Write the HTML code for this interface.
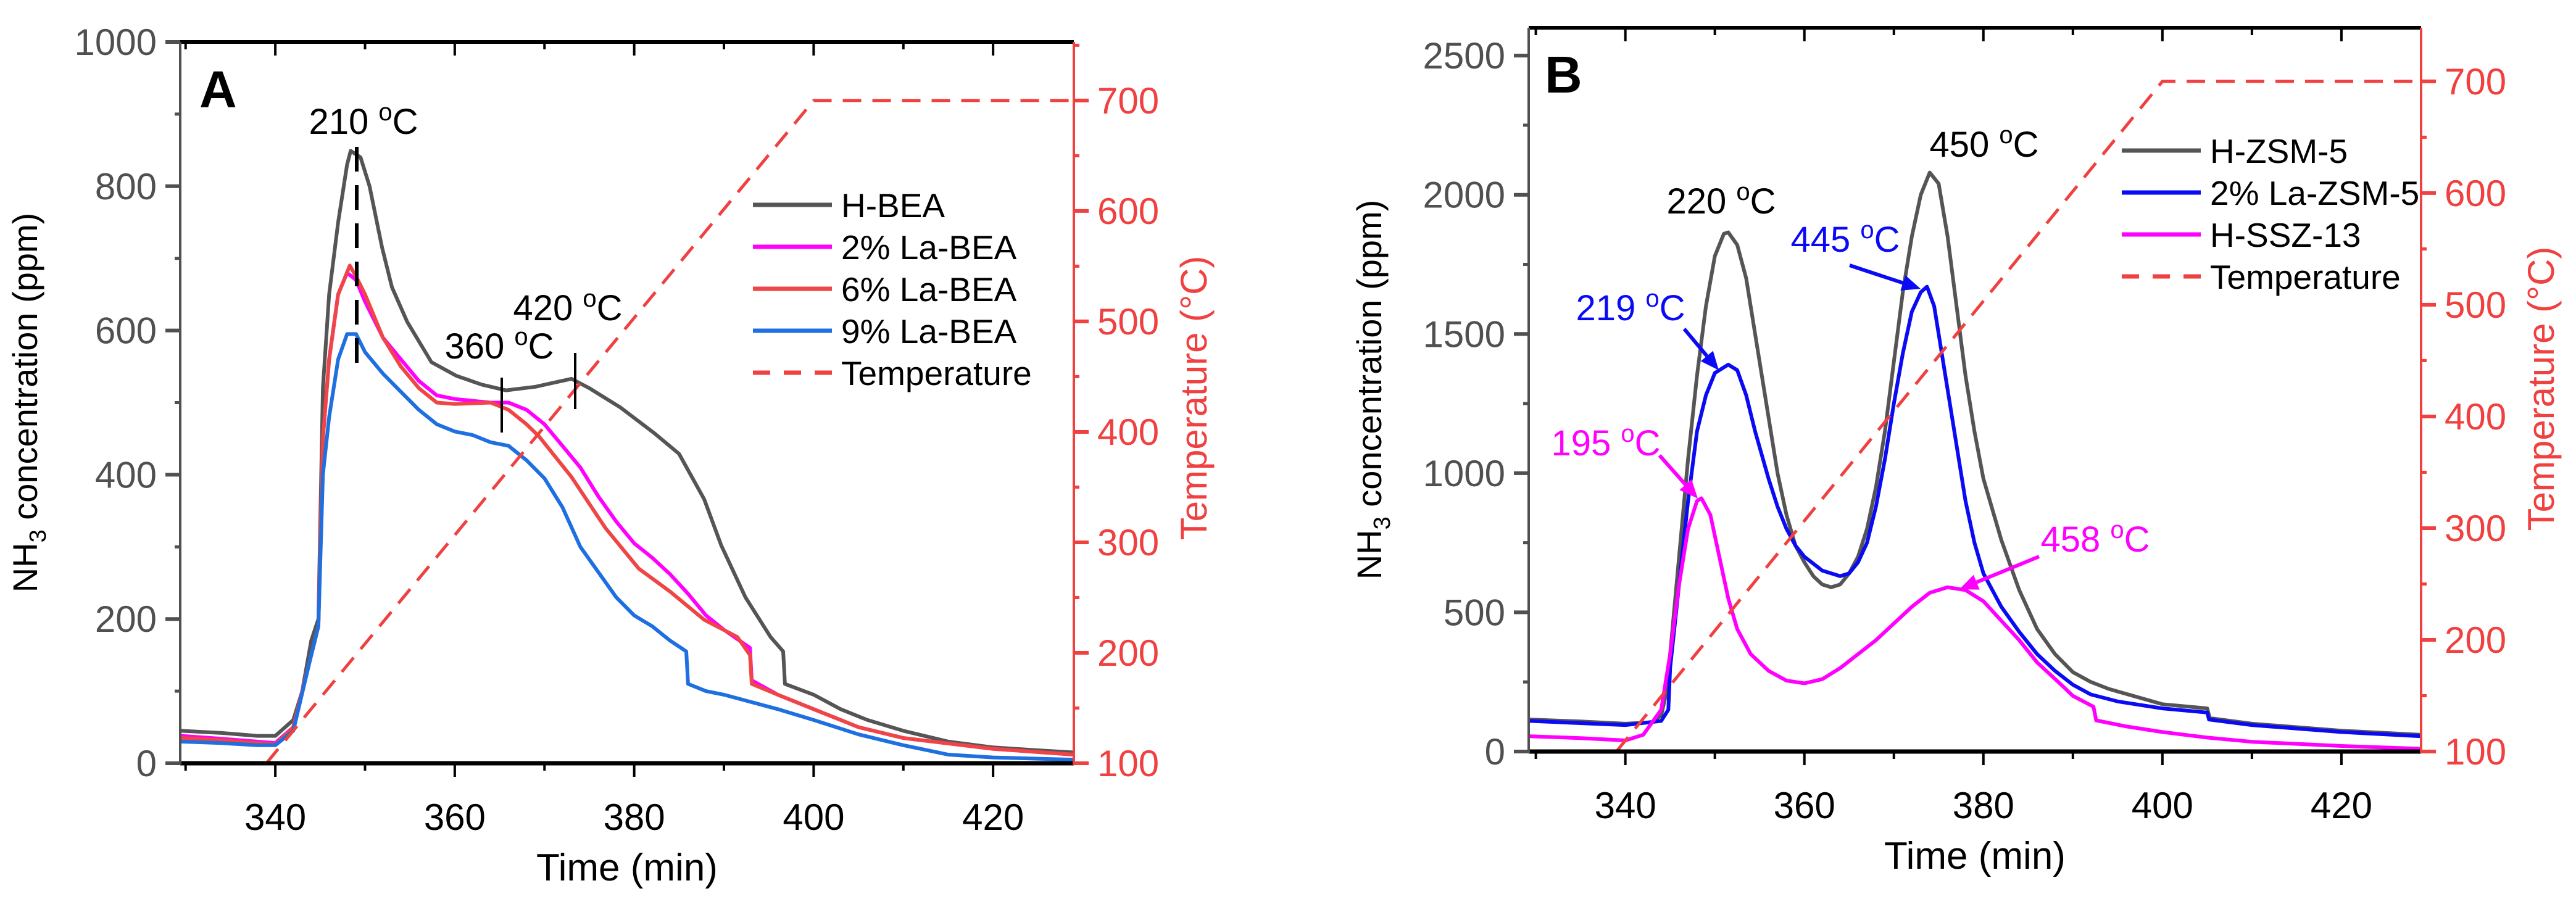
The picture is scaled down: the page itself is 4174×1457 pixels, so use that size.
<!DOCTYPE html>
<html><head><meta charset="utf-8"><style>
html,body{margin:0;padding:0;background:#fff}
svg{display:block}
text{font-family:"Liberation Sans",Arial,sans-serif}
</style></head><body>
<svg id="fig" width="4174" height="1457" viewBox="0 0 4174 1457" xmlns="http://www.w3.org/2000/svg"></svg>
<script>
// ---------- Panel A data ----------
const aHBEA_t = [329.5,334,338,340,342,343,344,344.8,345.3,346,347,348,348.4,349.5,350.5,351.9,353,354.7,357.4,360.2,363,365.7,369,373,375,378.5,382.3,385,387.8,389.7,392.4,395.2,396.6,396.8,400,403,406,410,415,420,425,429];
const aHBEA_v = [45,42,38,38,60,100,170,200,520,650,750,830,849,840,800,715,660,612,556,537,525,517,522,533,520,493,457,429,366,302,230,175,155,110,95,75,60,45,30,22,18,15];
const a2La_t = [329.5,334,338,340,342,344,344.8,345.3,346,347,348,349,350,352,354,356,358,360,364,366,368,370,372,374,376,378,380,382,384,386,388,390,392.9,393.1,396,400,405,410,420,429];
const a2La_v = [38,34,30,28,50,150,190,450,560,650,680,670,640,590,560,530,510,505,500,500,490,470,440,410,370,335,305,285,262,235,205,185,160,115,95,75,50,35,20,12];
const a6La_t = [329.5,334,338,340,342,344,344.8,345.3,346,347,348.3,349,350,352,354,356,358,360,364,366,368,369.4,373,376.8,380.5,384,387.8,391.5,392.9,393.1,396,400,405,410,420,429];
const a6La_v = [35,32,28,26,50,150,190,450,560,650,690,675,650,590,550,520,500,498,500,490,470,453,397,326,270,238,199,175,150,110,95,75,50,35,20,12];
const a9La_t = [329.5,334,338,340,342,344,344.8,345.3,346,347,348,349,350,352,354,356,358,360,362,364,366,368,370,372,374,376,378,380,382,384,385.8,386,388,390,393,396,400,405,410,415,420,429];
const a9La_v = [30,28,25,25,45,150,190,400,480,560,595,595,570,540,515,490,470,460,455,445,440,420,395,355,300,265,230,205,190,170,155,110,100,95,85,75,60,40,25,12,8,5];
// ---------- Panel B data ----------
const bZSM_t = [329.3,335,340,343,344,344.5,345,346,347,348,349,350,351,351.5,352.5,353.5,354.5,356,357,358,359,360,361,362,363,364,365,366,367,368,369,370,371,372,373,374,375,376,377,378,379,380,382,384,386,388,390,392,394,400,405,405.3,410,420,428.9];
const bZSM_v = [115,108,100,105,130,200,350,700,1050,1350,1600,1780,1860,1865,1820,1700,1500,1200,1000,850,740,680,630,600,590,600,640,700,800,950,1150,1400,1650,1850,2000,2080,2040,1850,1600,1350,1150,980,760,580,440,350,285,250,225,170,155,120,100,75,60];
const bLa_t = [329.3,335,340,344,344.8,345,346,347,348,349,350,351.5,352.5,353.5,354.5,356,357,358,359,360,362,364,365,366,367,368,369,370,371,372,373,373.7,374.5,375,376,377,378,379,380,382,384,386,388,390,392,395,400,405,405.2,410,420,428.9];
const bLa_v = [110,102,95,110,150,300,600,900,1150,1280,1360,1390,1370,1280,1150,980,880,800,740,700,650,630,640,680,750,880,1050,1250,1430,1580,1650,1670,1600,1500,1300,1100,900,750,640,520,430,350,290,240,205,180,155,140,115,95,70,55];
const bSSZ_t = [329.3,335,340,342,344,345,346,347,348,348.5,349.5,350.5,351.5,352.5,354,356,358,360,362,364,366,368,370,372,374,376,378,380,382,384,386,388.6,390,392.3,392.6,396,400,405,410,420,428.9];
const bSSZ_v = [55,48,40,60,150,350,600,800,900,910,850,700,550,440,350,290,255,245,260,300,350,400,460,520,570,590,580,540,470,400,320,243,200,161,112,90,70,50,35,20,10];
// temperature program
const temp_t = [339,400,429];
const temp_v = [100,700,700];
// tick labels
const aYTicks = [0,200,400,600,800,1000];
const bYTicks = [0,500,1000,1500,2000,2500];
const xTicks = [340,360,380,400,420];
const tTicks = [100,200,300,400,500,600,700];

const NS = "http://www.w3.org/2000/svg";
const svg = document.getElementById('fig');
function el(tag, attrs, parent, txt){
  const e = document.createElementNS(NS, tag);
  for (const k in attrs) e.setAttribute(k, attrs[k]);
  if (txt !== undefined) e.textContent = txt;
  (parent||svg).appendChild(e);
  return e;
}
const GREY='#505050', RED='#f04040';

function panel(P){
  const g = el('g',{});
  
  
  const X = t => P.L + (t - P.x0)/(P.x1 - P.x0)*(P.R - P.L);
  const Y = v => P.B - v/P.ymax*(P.B - P.T);
  const TY = v => P.B - (v-100)/(P.tmax-100)*(P.B - P.T);
  P.series.forEach(s=>{
    const d = s.t.map((t,i)=>(i?'L':'M')+X(t).toFixed(1)+' '+Y(s.v[i]).toFixed(1)).join(' ');
    const p = el('path',{d:d,fill:'none',stroke:s.color,'stroke-width':6,'stroke-linejoin':'round'},g);
    
    
  });
  const td = temp_t.map((t,i)=>(i?'L':'M')+X(t).toFixed(1)+' '+TY(temp_v[i]).toFixed(1)).join(' ');
  const tp = el('path',{d:td,fill:'none',stroke:RED,'stroke-width':5,'stroke-dasharray':'30 18'},g);
  
  
  el('line',{x1:P.L,y1:P.T,x2:P.R,y2:P.T,stroke:'#000','stroke-width':6},g);
  el('line',{x1:P.L,y1:P.B,x2:P.R,y2:P.B,stroke:'#000','stroke-width':7},g);
  el('line',{x1:P.L,y1:P.T,x2:P.L,y2:P.B+3,stroke:GREY,'stroke-width':4},g);
  el('line',{x1:P.R,y1:P.T,x2:P.R,y2:P.B+3,stroke:RED,'stroke-width':4},g);
  for (let t=330;t<=P.x1;t+=10){
    const major = t%20===0; const x=X(t);
    el('line',{x1:x,y1:P.B,x2:x,y2:P.B+(major?22:12),stroke:'#000','stroke-width':4},g);
    el('line',{x1:x,y1:P.T,x2:x,y2:P.T+(major?22:12),stroke:'#000','stroke-width':4},g);
  }
  xTicks.forEach(t=>{
    const tx = el('text',{x:X(t),y:P.B+108,'font-size':60,'text-anchor':'middle',fill:'#000'},g,String(t));
    
    
  });
  for (let v=0; v<=P.ymax; v+=P.yminor){
    const major = v % P.ymajor === 0;
    el('line',{x1:P.L-(major?24:9),y1:Y(v),x2:P.L,y2:Y(v),stroke:GREY,'stroke-width':major?6:5},g);
  }
  P.yTicks.forEach(v=>{
    const tx = el('text',{x:P.L-38,y:Y(v)+21,'font-size':60,'text-anchor':'end',fill:GREY},g,String(v));
    
    
  });
  for (let v=100; v<=P.tmax; v+=50){
    const major = v%100===0;
    el('line',{x1:P.R,y1:TY(v),x2:P.R+(major?24:9),y2:TY(v),stroke:RED,'stroke-width':major?6:5},g);
  }
  tTicks.forEach(v=>{
    const tx = el('text',{x:P.R+38,y:TY(v)+21,'font-size':60,'text-anchor':'start',fill:RED},g,String(v));
    
    
  });
  const xt = el('text',{x:(P.L+P.R)/2,y:P.B+190,'font-size':62,'text-anchor':'middle',fill:'#000'},g,'Time (min)');
   
  const yt = el('text',{x:0,y:0,'font-size':56,'text-anchor':'middle',fill:'#000',transform:`translate(${P.ytx},${(P.T+P.B)/2}) rotate(-90)`},g);
   
  el('tspan',{},yt,'NH');
  el('tspan',{'font-size':38,dy:14},yt,'3');
  el('tspan',{dy:-14},yt,' concentration (ppm)');
  const rt = el('text',{x:0,y:0,'font-size':60,'text-anchor':'middle',fill:RED,transform:`translate(${P.R+P.rtx},${P.rty}) rotate(-90)`},g,'Temperature (°C)');
   
  const lg = el('g',{},g);
   
  P.legend.forEach((item,i)=>{
    const y = P.legY + i*P.legDy;
    const ln = el('line',{x1:P.legX,y1:y,x2:P.legX+128,y2:y,stroke:item.c,'stroke-width':7,'stroke-dasharray':item.dash?'28 22':'none'},lg);
     
    const tx = el('text',{x:P.legX+143,y:y+20,'font-size':55,fill:'#000'},lg,item.label);
     
  });
  const lt = el('text',{x:P.letX,y:P.letY,'font-size':84,'font-weight':'bold',fill:'#000'},g,P.letter);
   
  return g;
}

panel({name:'panel-a',letter:'A',letX:323,letY:174,L:292,R:1740,T:68,B:1237,x0:329.4,x1:429,ymax:1000,ymajor:200,yminor:100,yTicks:aYTicks,tmax:753,ytx:60,rtx:215,rty:645,
  series:[{id:'h-bea',t:aHBEA_t,v:aHBEA_v,color:'#555555'},{id:'la2-bea',t:a2La_t,v:a2La_v,color:'#ff00ff'},{id:'la6-bea',t:a6La_t,v:a6La_v,color:'#ef4545'},{id:'la9-bea',t:a9La_t,v:a9La_v,color:'#1e6fe0'}],
  legX:1220,legY:332,legDy:68,
  legend:[{label:'H-BEA',c:'#555555'},{label:'2% La-BEA',c:'#ff00ff'},{label:'6% La-BEA',c:'#ef4545'},{label:'9% La-BEA',c:'#1e6fe0'},{label:'Temperature',c:RED,dash:true}]});

panel({name:'panel-b',letter:'B',letX:2503,letY:150,L:2477,R:3923,T:45,B:1218,x0:329.2,x1:428.9,ymax:2600,ymajor:500,yminor:250,yTicks:bYTicks,tmax:748,ytx:2238,rtx:215,rty:630,
  series:[{id:'h-zsm5',t:bZSM_t,v:bZSM_v,color:'#555555'},{id:'la2-zsm5',t:bLa_t,v:bLa_v,color:'#0a0af5'},{id:'h-ssz13',t:bSSZ_t,v:bSSZ_v,color:'#ff00ff'}],
  legX:3438,legY:244,legDy:68,
  legend:[{label:'H-ZSM-5',c:'#555555'},{label:'2% La-ZSM-5',c:'#0a0af5'},{label:'H-SSZ-13',c:'#ff00ff'},{label:'Temperature',c:RED,dash:true}]});

function ann(x,y,txt,color,name,anchor){
  const t = el('text',{x:x,y:y,'font-size':58,'text-anchor':anchor||'middle',fill:color});
  
  
  const parts = txt.split('°');
  el('tspan',{},t,parts[0]);
  el('tspan',{'font-size':40,dy:-22},t,'o');
  el('tspan',{dy:22},t,parts[1]);
}
ann(589,217,'210 °C','#000','peak-label-210');
ann(809,581,'360 °C','#000','peak-label-360');
ann(920,519,'420 °C','#000','peak-label-420');
el('line',{x1:578,y1:238,x2:578,y2:598,stroke:'#000','stroke-width':6,'stroke-dasharray':'40 22'});
el('line',{x1:813,y1:612,x2:813,y2:701,stroke:'#000','stroke-width':4});
el('line',{x1:932,y1:572,x2:932,y2:663,stroke:'#000','stroke-width':4});

ann(2789,346,'220 °C','#000','peak-label-220');
ann(3215,254,'450 °C','#000','peak-label-450');
ann(2642,519,'219 °C','#0a0af5','peak-label-219');
ann(2990,408,'445 °C','#0a0af5','peak-label-445');
ann(2602,738,'195 °C','#ff00ff','peak-label-195');
ann(3395,894,'458 °C','#ff00ff','peak-label-458');
function arrow(x1,y1,x2,y2,c,name){
  const g = el('g',{});
  
  
  const a = Math.atan2(y2-y1,x2-x1), L=30, W=13;
  const bx = x2 - L*Math.cos(a), by = y2 - L*Math.sin(a);
  el('line',{x1:x1,y1:y1,x2:bx,y2:by,stroke:c,'stroke-width':6},g);
  el('polygon',{points:`${x2},${y2} ${bx+W*Math.sin(a)},${by-W*Math.cos(a)} ${bx-W*Math.sin(a)},${by+W*Math.cos(a)}`,fill:c},g);
}
arrow(2729,533,2785,600,'#0a0af5','arrow-219');
arrow(2997,430,3112,468,'#0a0af5','arrow-445');
arrow(2689,738,2751,808,'#ff00ff','arrow-195');
arrow(3304,902,3175,955,'#ff00ff','arrow-458');
</script>
</body></html>
